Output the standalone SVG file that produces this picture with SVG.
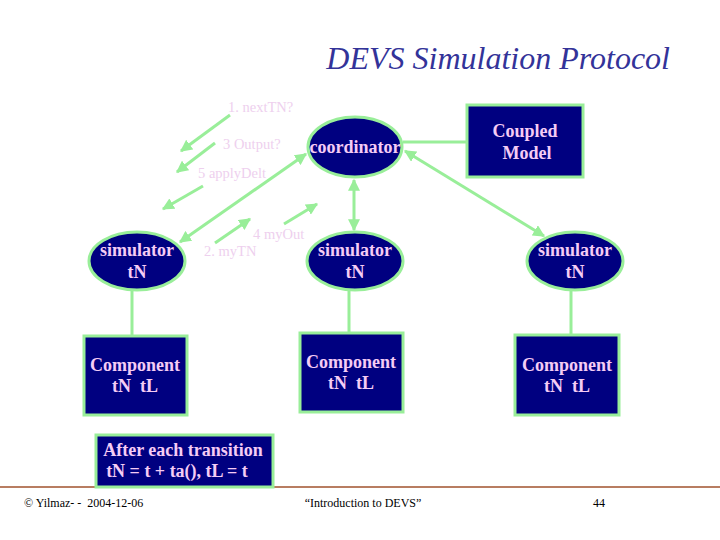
<svg xmlns="http://www.w3.org/2000/svg" width="720" height="540" viewBox="0 0 720 540">
<defs>
<marker id="ah" viewBox="0 0 10 10" refX="9" refY="5" markerWidth="4" markerHeight="4" orient="auto-start-reverse" markerUnits="strokeWidth">
<path d="M0,0 L10,5 L0,10 z" fill="#99ee99"/>
</marker>
<style>
text{font-family:"Liberation Serif","Times New Roman",serif;white-space:pre}
.node{fill:#000080;stroke:#99ee99;stroke-width:3}
.nt{font-weight:bold;font-size:18px;fill:#f5ccf5;text-anchor:middle}
.lbl{font-size:14.5px;fill:#eed0ee}
.ln{stroke:#99ee99;stroke-width:3;fill:none}
.ar{stroke:#99ee99;stroke-width:3;fill:none;marker-end:url(#ah)}
.da{stroke:#99ee99;stroke-width:3;fill:none;marker-end:url(#ah);marker-start:url(#ah)}
.ft{font-size:12px;fill:#000}
.title{font-style:italic;font-size:32px;fill:#333399;text-anchor:end}
</style>
</defs>
<rect width="720" height="540" fill="#ffffff"/>
<text class="title" x="670" y="69">DEVS Simulation Protocol</text>
<line x1="0" y1="487" x2="720" y2="487" stroke="#a0522d" stroke-width="1.5"/>
<g id="connectors">
<line class="ln" x1="403" y1="142" x2="467" y2="142"/>
<line class="da" x1="354" y1="180" x2="354" y2="230"/>
<line class="da" x1="405" y1="151" x2="544" y2="236"/>
<line class="da" x1="306" y1="154" x2="180" y2="242"/>
<line class="ln" x1="132" y1="291" x2="132" y2="336"/>
<line class="ln" x1="349" y1="291" x2="349" y2="333"/>
<line class="ln" x1="571" y1="291" x2="571" y2="335"/>
<line class="ar" x1="230" y1="115" x2="181" y2="151"/>
<line class="ar" x1="215" y1="143" x2="177" y2="172"/>
<line class="ar" x1="203" y1="186" x2="163" y2="209"/>
<line class="ar" x1="215" y1="243" x2="250" y2="219"/>
<line class="ar" x1="284" y1="224" x2="317" y2="204"/>
</g>
<g id="labels">
<text class="lbl" x="228" y="112">1. nextTN?</text>
<text class="lbl" x="223" y="149">3 Output?</text>
<text class="lbl" x="198" y="178">5 applyDelt</text>
<text class="lbl" x="204" y="256">2. myTN</text>
<text class="lbl" x="253" y="239">4 myOut</text>
</g>
<g id="coordinator">
<ellipse class="node" cx="355" cy="147" rx="47" ry="30"/>
<text class="nt" x="355" y="153">coordinator</text>
</g>
<g id="coupled-model">
<rect class="node" x="467" y="105" width="116" height="72"/>
<text class="nt" x="525" y="137">Coupled</text>
<text class="nt" x="527" y="159">Model</text>
</g>
<g id="simulator-left">
<ellipse class="node" cx="137" cy="261" rx="48" ry="29"/>
<text class="nt" x="137" y="256">simulator</text>
<text class="nt" x="137" y="278">tN</text>
</g>
<g id="simulator-middle">
<ellipse class="node" cx="355" cy="261" rx="48" ry="29"/>
<text class="nt" x="355" y="256">simulator</text>
<text class="nt" x="355" y="278">tN</text>
</g>
<g id="simulator-right">
<ellipse class="node" cx="575" cy="261" rx="48" ry="29"/>
<text class="nt" x="575" y="256">simulator</text>
<text class="nt" x="575" y="278">tN</text>
</g>
<g id="component-left">
<rect class="node" x="84" y="336" width="103" height="79"/>
<text class="nt" x="135" y="371">Component</text>
<text class="nt" x="135" y="392">tN  tL</text>
</g>
<g id="component-middle">
<rect class="node" x="300" y="333" width="103" height="79"/>
<text class="nt" x="351" y="368">Component</text>
<text class="nt" x="351" y="389">tN  tL</text>
</g>
<g id="component-right">
<rect class="node" x="515" y="335" width="104" height="80"/>
<text class="nt" x="567" y="371">Component</text>
<text class="nt" x="567" y="392">tN  tL</text>
</g>
<g id="note">
<rect class="node" x="96" y="435" width="177" height="52"/>
<text class="nt" x="183" y="456">After each transition</text>
<text class="nt" x="177" y="477">tN = t + ta(), tL = t</text>
</g>
<g id="footer">
<text class="ft" x="24" y="507">© Yilmaz- -  2004-12-06</text>
<text class="ft" x="363" y="507" text-anchor="middle">“Introduction to DEVS”</text>
<text class="ft" x="599" y="507" text-anchor="middle">44</text>
</g>
</svg>
